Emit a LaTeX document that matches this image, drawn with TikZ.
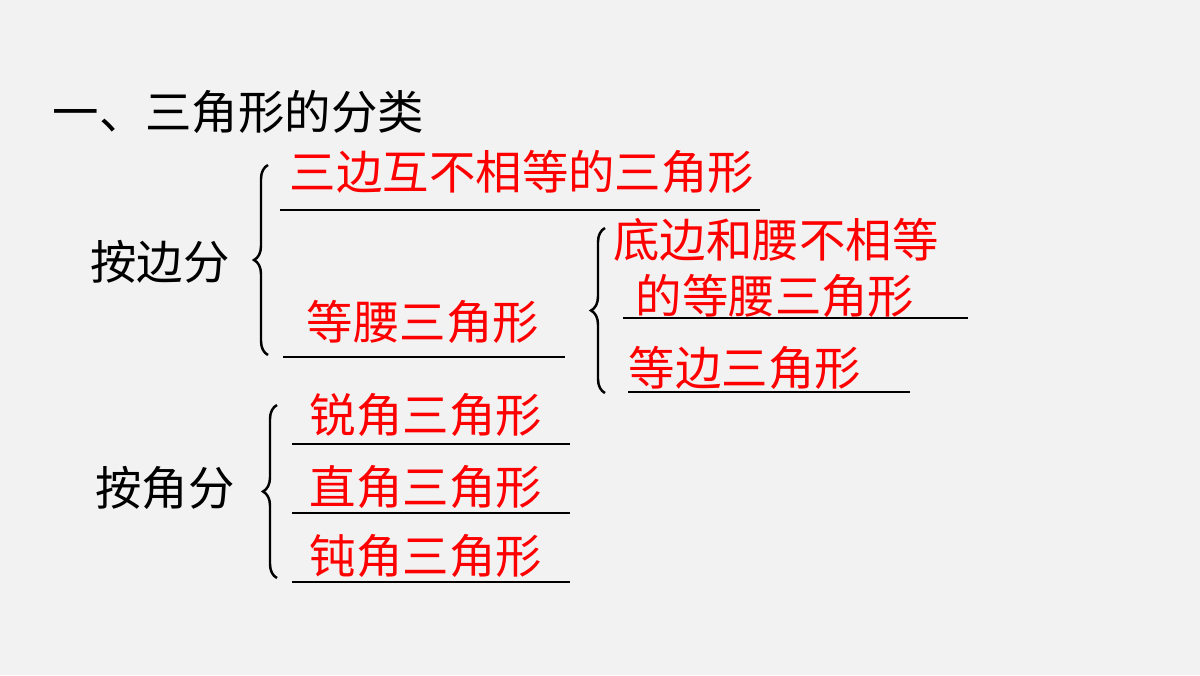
\documentclass[tikz,border=0pt]{standalone}
\usepackage{fontspec}
\setmainfont{Noto Sans CJK SC}
\usetikzlibrary{decorations.pathreplacing}
\definecolor{bg}{HTML}{F2F2F2}
\definecolor{ans}{HTML}{FF0000}
\begin{document}
\begin{tikzpicture}[x=0.01cm,y=-0.01cm,
  blk/.style={font=\fontsize{13.2pt}{15pt}\selectfont,text=black,inner sep=0pt},
  red/.style={font=\fontsize{13.2pt}{15pt}\selectfont,text=ans,inner sep=0pt},
  blank/.style={line width=0.6pt},
  br/.style={line width=0.7pt,decorate,decoration={brace,amplitude=0.14cm}}]
\fill[bg] (0,0) rectangle (1200,675);
\useasboundingbox (0,0) rectangle (1200,675);
\node[blk,anchor=west] (title) at (52,112) {一、三角形的分类};
\node[blk] (side) at (160,262) {按边分};
\node[blk] (angle) at (165,488) {按角分};
\draw[br] (268,355) -- (268,165);
\draw[br] (605,393) -- (605,228);
\draw[br] (277,578) -- (277,405);
\node[red] (t1) at (522,172) {三边互不相等的三角形};
\draw[blank] (280,210) -- (760,210);
\node[red] (t2) at (423,322) {等腰三角形};
\draw[blank] (283,357) -- (565,357);
\node[red] (t3) at (776,240) {底边和腰不相等};
\node[red] (t4) at (775,296) {的等腰三角形};
\draw[blank] (623,318) -- (968,318);
\node[red] (t5) at (745,368) {等边三角形};
\draw[blank] (628,392) -- (910,392);
\node[red] (t6) at (426,415) {锐角三角形};
\draw[blank] (292,444) -- (570,444);
\node[red] (t7) at (426,487) {直角三角形};
\draw[blank] (292,513) -- (570,513);
\node[red] (t8) at (426,556) {钝角三角形};
\draw[blank] (292,582) -- (570,582);
\end{tikzpicture}
\end{document}
